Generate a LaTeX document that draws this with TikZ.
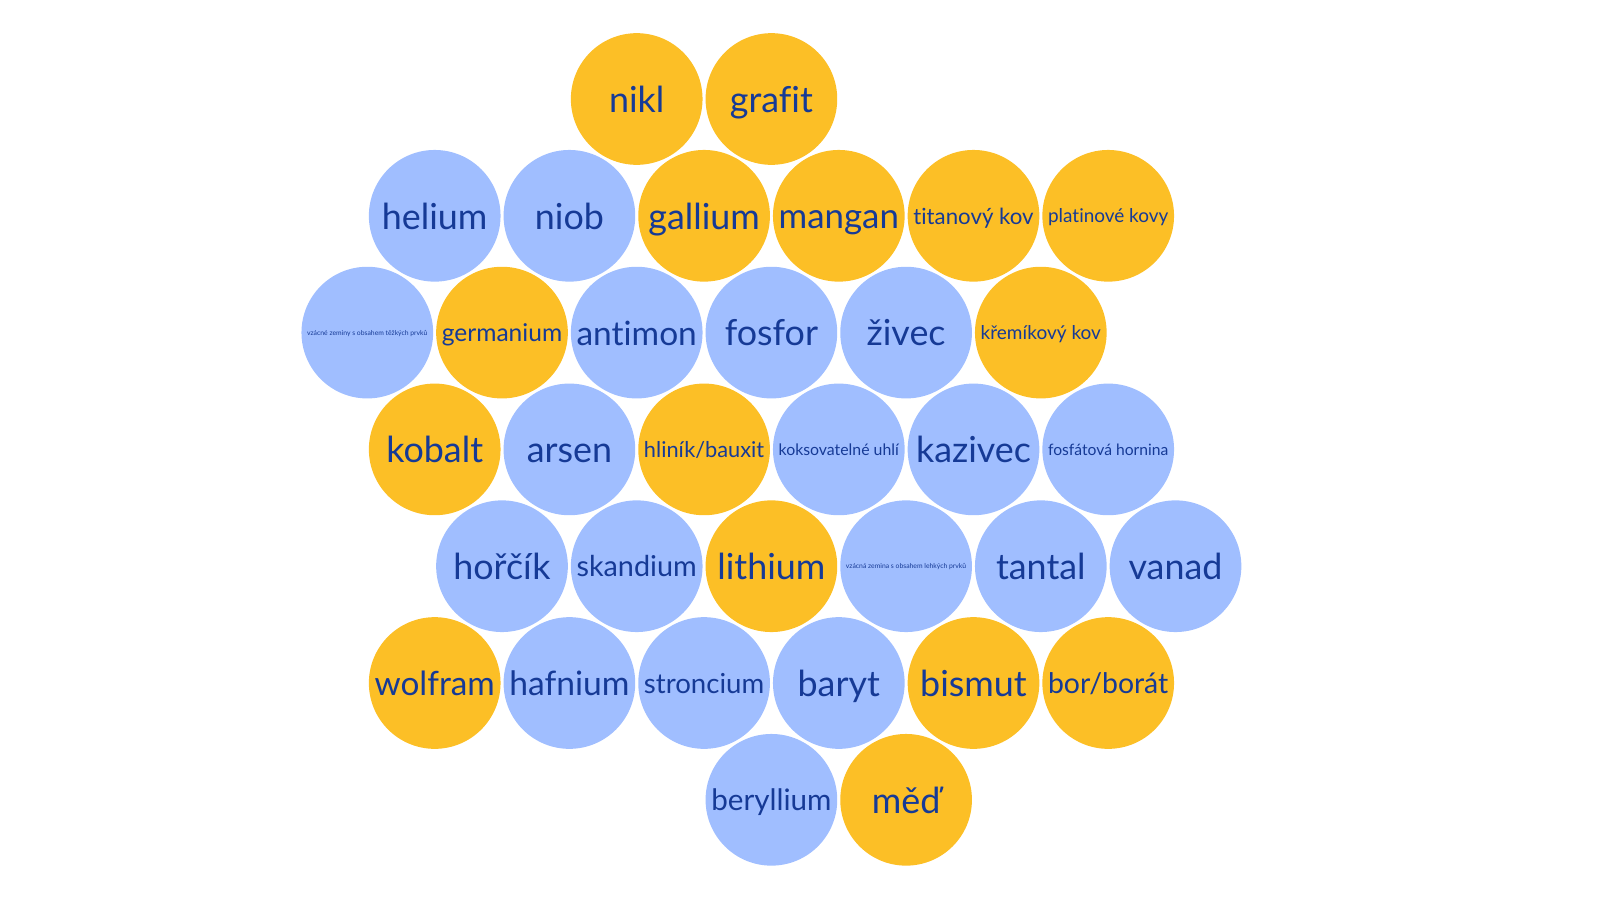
\documentclass[tikz,border=0pt]{standalone}
\usepackage{fontspec}
\usepackage{graphicx}
\setmainfont{Lato}[Ligatures=NoCommon]
\usetikzlibrary{positioning}

\definecolor{gold}{RGB}{252,191,38}
\definecolor{sky}{RGB}{160,190,255}
\definecolor{ink}{RGB}{22,58,150}

% shrink a label only when it is wider than the bubble allows
\newlength\lblw
\newcommand\fitlbl[1]{\settowidth\lblw{#1}%
  \ifdim\lblw>34.2pt\resizebox{34.2pt}{!}{#1\vphantom{Áhg}}\else#1\vphantom{Áhg}\fi}

\tikzset{
  bubble/.style={circle, minimum size=1.316cm, inner sep=0pt, text=ink,
    font=\fontsize{10.2}{12}\selectfont},
  hot/.style={bubble, fill=gold},
  cool/.style={bubble, fill=sky}
}

\begin{document}
\begin{tikzpicture}[x=0.01cm, y=-0.01cm]
                \useasboundingbox (0,0) rectangle (1600,900);

                \node[hot] (nikl) at (636.7, 99) {\fitlbl{nikl}};
                \node[hot] (grafit) at (771.4, 99) {\fitlbl{grafit}};

                \node[cool] (helium) at (434.7, 215.8) {\fitlbl{helium}};
                \node[cool] (niob) at (569.4, 215.8) {\fitlbl{niob}};
                \node[hot] (gallium) at (704.1, 215.8) {\fitlbl{gallium}};
                \node[hot] (mangan) at (838.8, 215.8) {\fitlbl{mangan}};
                \node[hot] (titan) at (973.5, 215.8) {\fitlbl{titanový kov}};
                \node[hot] (platina) at (1108.2, 215.8) {\fitlbl{platinové kovy}};

                \node[cool] (tezke) at (367.3, 332.6) {\fitlbl{vzácné zeminy s obsahem těžkých prvků}};
                \node[hot] (germanium) at (502.0, 332.6) {\fitlbl{germanium}};
                \node[cool] (antimon) at (636.7, 332.6) {\fitlbl{antimon}};
                \node[cool] (fosfor) at (771.4, 332.6) {\fitlbl{fosfor}};
                \node[cool] (zivec) at (906.1, 332.6) {\fitlbl{živec}};
                \node[hot] (kremik) at (1040.8, 332.6) {\fitlbl{křemíkový kov}};

                \node[hot] (kobalt) at (434.7, 449.4) {\fitlbl{kobalt}};
                \node[cool] (arsen) at (569.4, 449.4) {\fitlbl{arsen}};
                \node[hot] (hlinik) at (704.1, 449.4) {\fitlbl{hliník/bauxit}};
                \node[cool] (uhli) at (838.8, 449.4) {\fitlbl{koksovatelné uhlí}};
                \node[cool] (kazivec) at (973.5, 449.4) {\fitlbl{kazivec}};
                \node[cool] (fosfat) at (1108.2, 449.4) {\fitlbl{fosfátová hornina}};

                \node[cool] (horcik) at (502.0, 566.2) {\fitlbl{hořčík}};
                \node[cool] (skandium) at (636.7, 566.2) {\fitlbl{skandium}};
                \node[hot] (lithium) at (771.4, 566.2) {\fitlbl{lithium}};
                \node[cool] (lehke) at (906.1, 566.2) {\fitlbl{vzácná zemina s obsahem lehkých prvků}};
                \node[cool] (tantal) at (1040.8, 566.2) {\fitlbl{tantal}};
                \node[cool] (vanad) at (1175.5, 566.2) {\fitlbl{vanad}};

                \node[hot] (wolfram) at (434.7, 683) {\fitlbl{wolfram}};
                \node[cool] (hafnium) at (569.4, 683) {\fitlbl{hafnium}};
                \node[cool] (stroncium) at (704.1, 683) {\fitlbl{stroncium}};
                \node[cool] (baryt) at (838.8, 683) {\fitlbl{baryt}};
                \node[hot] (bismut) at (973.5, 683) {\fitlbl{bismut}};
                \node[hot] (bor) at (1108.2, 683) {\fitlbl{bor/borát}};

                \node[cool] (beryllium) at (771.4, 799.8) {\fitlbl{beryllium}};
                \node[hot] (med) at (906.1, 799.8) {\fitlbl{měď}};
            \end{tikzpicture}
\end{document}
